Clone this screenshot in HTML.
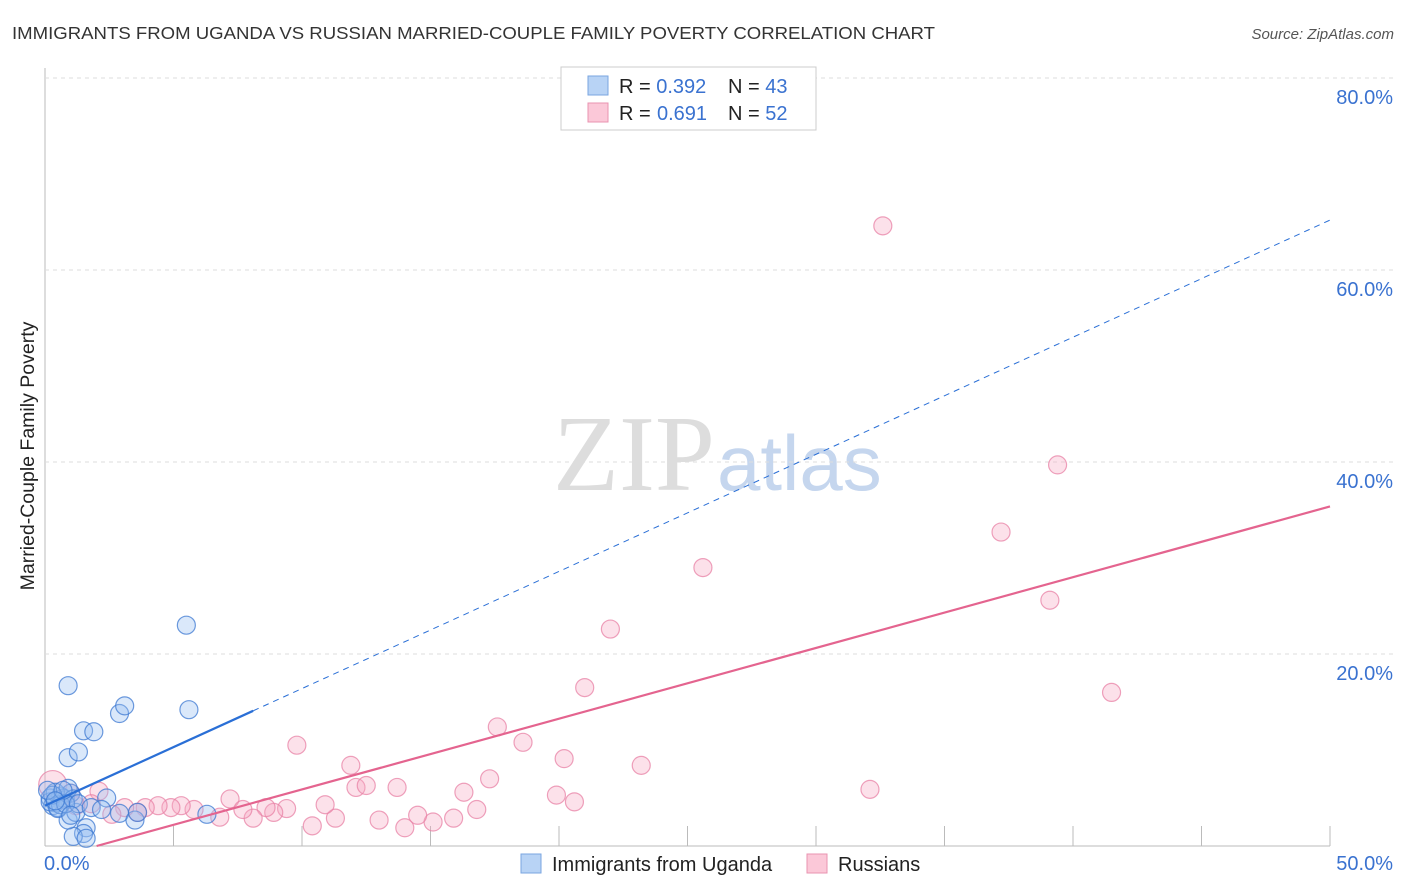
<!DOCTYPE html>
<html><head><meta charset="utf-8"><style>
body{margin:0;background:#fff;font-family:"Liberation Sans",sans-serif;}
#wrap{position:relative;width:1406px;height:892px;overflow:hidden;}
</style></head><body>
<div id="wrap">
<svg id="svg" width="1406" height="892" xmlns="http://www.w3.org/2000/svg">
<text x="12" y="39" font-size="17.5" fill="#333" textLength="923" lengthAdjust="spacingAndGlyphs">IMMIGRANTS FROM UGANDA VS RUSSIAN MARRIED-COUPLE FAMILY POVERTY CORRELATION CHART</text>
<text x="1394" y="39" font-size="15" fill="#555" font-style="italic" text-anchor="end">Source: ZipAtlas.com</text>
<text transform="translate(34,456) rotate(-90)" font-size="19.5" fill="#222" text-anchor="middle">Married-Couple Family Poverty</text>
<text x="715" y="490" font-size="108" fill="#ddd" font-family="Liberation Serif,serif" text-anchor="end">ZIP</text>
<text x="717" y="490" font-size="78" fill="#c5d6ee">atlas</text>
<g id="grid"></g><g id="pts"></g><g id="lines"></g>
<g>
<rect x="561" y="67" width="255" height="63" fill="#fff" stroke="#ccc"/>
<rect x="588" y="76" width="20" height="19" fill="#b8d3f5" stroke="#7aa6e0"/>
<rect x="588" y="103" width="20" height="19" fill="#fbc8d8" stroke="#e993b0"/>
<text x="619" y="93" font-size="20" fill="#222">R = <tspan fill="#3a72d0">0.392</tspan></text>
<text x="728" y="93" font-size="20" fill="#222">N = <tspan fill="#3a72d0">43</tspan></text>
<text x="619" y="120" font-size="20" fill="#222">R = </text>
<text x="657" y="120" font-size="20" fill="#3a72d0">0.691</text>
<text x="728" y="120" font-size="20" fill="#222">N = <tspan fill="#3a72d0">52</tspan></text>
</g>
<g>
<rect x="521" y="854" width="20" height="19" fill="#b8d3f5" stroke="#7aa6e0"/>
<text x="552" y="871" font-size="20" fill="#222">Immigrants from Uganda</text>
<rect x="807" y="854" width="20" height="19" fill="#fbc8d8" stroke="#e993b0"/>
<text x="838" y="871" font-size="20" fill="#222">Russians</text>
</g>
</svg>
</div>
<script>
const yTicks=[20,40,60,80];
const yTickLabels=["20.0%","40.0%","60.0%","80.0%"];
const xTickLabels=["0.0%","50.0%"];
const ugX=[0.9,2.9,3.1,5.5,5.6,1.5,1.9,0.9,1.3,2.4,2.9,3.5,3.6,6.3,1.6,1.5,1.1,1.6,0.9,1.2,0.2,0.4,0.6,0.8,1.0,0.3,0.5,0.7,0.2,0.4,0.6,0.9,1.1,0.3,0.5,0.8,0.1,1.3,1.0,0.7,1.8,2.2,0.4];
const ugY=[16.7,13.8,14.6,23.0,14.2,12.0,11.9,9.2,9.8,5.0,3.4,2.7,3.5,3.3,1.9,1.3,1.0,0.8,2.7,3.5,5.0,4.5,5.2,4.8,5.5,4.2,4.0,5.0,4.6,5.6,4.3,6.0,4.9,5.3,3.9,4.4,5.8,4.4,3.2,5.8,4.0,3.8,4.7];
const ruX=[32.6,39.4,37.2,39.1,41.5,25.6,22.0,21.0,17.6,18.6,20.2,23.2,32.1,9.8,11.9,12.1,12.5,13.7,17.3,16.3,19.9,20.6,16.8,15.9,15.1,14.5,14.0,13.0,11.3,10.9,10.4,9.4,8.9,8.6,8.1,7.2,7.7,6.8,5.8,5.3,4.9,4.4,3.9,3.6,3.1,2.6,2.1,1.8,0.3,0.6,1.2,1.0];
const ruY=[64.6,39.7,32.7,25.6,16.0,29.0,22.6,16.5,12.4,10.8,9.1,8.4,5.9,10.5,8.4,6.1,6.3,6.1,7.0,5.6,5.3,4.6,3.8,2.9,2.5,3.2,1.9,2.7,2.9,4.3,2.1,3.9,3.5,4.0,2.9,4.9,3.8,3.0,3.8,4.2,4.0,4.2,4.0,3.5,4.0,3.3,5.7,4.4,6.4,4.8,4.2,5.5];
const ugTrend=[4.2,1.22];const ruTrend=[-1.48,0.737];
const X=v=>45+v*25.7, Y=v=>846-v*9.6;
const NS="http://www.w3.org/2000/svg";
function mk(t,a,p){const e=document.createElementNS(NS,t);for(const k in a)e.setAttribute(k,a[k]);p.appendChild(e);return e;}
const g=document.getElementById('grid');
const ax=mk('line',{x1:45,y1:68,x2:45,y2:846,stroke:'#bbb'},g);


const bx=mk('line',{x1:45,y1:846,x2:1330,y2:846,stroke:'#bbb'},g);


yTicks.forEach((t,i)=>{
 const l=mk('line',{x1:45,x2:1394,y1:Y(t),y2:Y(t),stroke:'#ddd','stroke-dasharray':'4,4'},g);
 
 
 const tx=mk('text',{x:1393,y:Y(t)+26,'font-size':20,fill:'#3a72d0','text-anchor':'end'},g);tx.textContent=yTickLabels[i];
 
 
});
for(let i=1;i<=10;i++){const l=mk('line',{x1:X(i*5),x2:X(i*5),y1:826,y2:846,stroke:'#bbb'},g);
 
 }
[[0,'start',44],[50,'end',1393]].forEach((a,i)=>{const t=mk('text',{x:a[2],y:870,'font-size':20,fill:'#3a72d0','text-anchor':a[1]},g);t.textContent=xTickLabels[i];
 
 });
const p=document.getElementById('pts');
ruX.forEach((x,i)=>{const c=mk('circle',{cx:X(x),cy:Y(ruY[i]),r:i==48?14:9,fill:'rgba(247,170,195,0.35)',stroke:'rgba(232,130,165,0.75)','stroke-width':1.2},p);
 
 });
ugX.forEach((x,i)=>{const c=mk('circle',{cx:X(x),cy:Y(ugY[i]),r:9,fill:'rgba(150,190,240,0.35)',stroke:'rgba(60,120,210,0.75)','stroke-width':1.2},p);
 
 });
const L=document.getElementById('lines');
const f=(t,x)=>t[0]+t[1]*x;
const l1=mk('line',{x1:X(0),y1:Y(f(ugTrend,0)),x2:X(8.1),y2:Y(f(ugTrend,8.1)),stroke:'#2a6fd6','stroke-width':2.2},L);


const l2=mk('line',{x1:X(8.1),y1:Y(f(ugTrend,8.1)),x2:X(50),y2:Y(f(ugTrend,50)),stroke:'#2a6fd6','stroke-width':1,'stroke-dasharray':'6,5'},L);


const x0=-ruTrend[0]/ruTrend[1];
const l3=mk('line',{x1:X(x0),y1:Y(0),x2:X(50),y2:Y(f(ruTrend,50)),stroke:'#e4648f','stroke-width':2.2},L);


</script>
</body></html>
